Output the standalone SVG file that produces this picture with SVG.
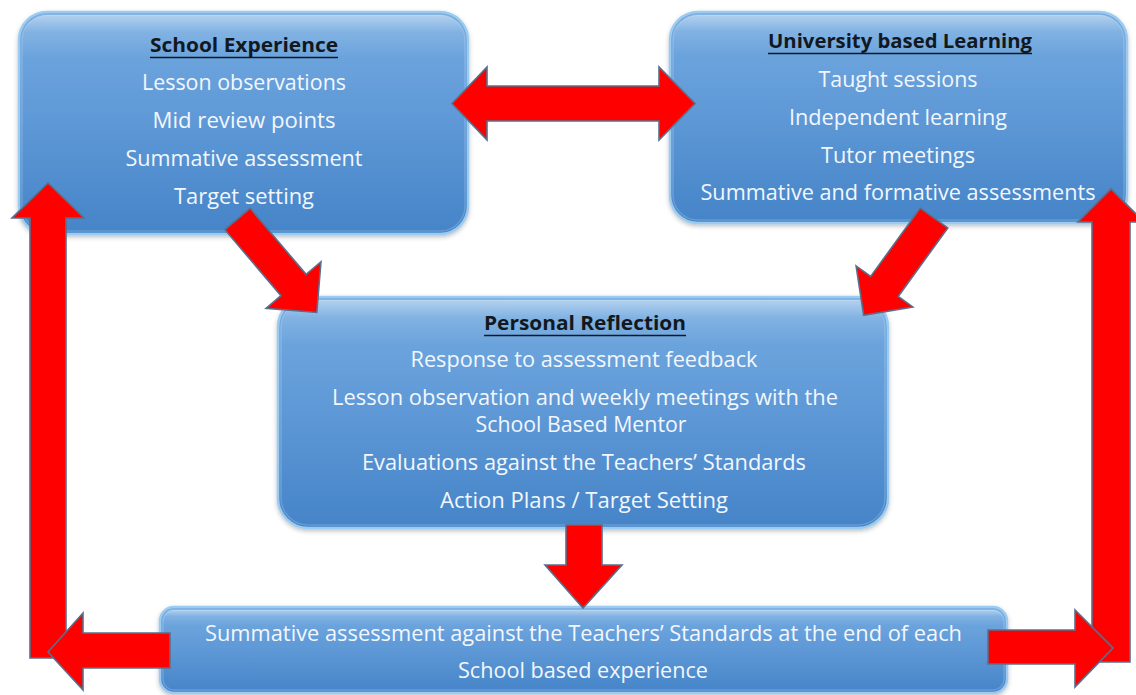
<svg xmlns="http://www.w3.org/2000/svg" width="1136" height="695" viewBox="0 0 1136 695">
<defs>
<linearGradient id="boxGrad" x1="0" y1="0" x2="0" y2="1">
<stop offset="0" stop-color="#74abe1"/>
<stop offset="0.5" stop-color="#5e98d6"/>
<stop offset="1" stop-color="#4584c8"/>
</linearGradient>
<linearGradient id="hlGrad" x1="0" y1="0" x2="0" y2="1">
<stop offset="0" stop-color="#ffffff" stop-opacity="0.45"/>
<stop offset="0.08" stop-color="#ffffff" stop-opacity="0.12"/>
<stop offset="0.2" stop-color="#ffffff" stop-opacity="0"/>
</linearGradient>
<filter id="shadow" x="-5%" y="-5%" width="110%" height="115%">
<feDropShadow dx="0" dy="2" stdDeviation="2" flood-color="#3a4a60" flood-opacity="0.35"/>
</filter>
<style>
.box { fill: url(#boxGrad); stroke: #9ccbf0; stroke-width: 2.5; filter: url(#shadow); }
.hl { fill: url(#hlGrad); stroke: #ffffff; stroke-opacity: 0.18; stroke-width: 1.5; }
.title { font-family: "Open Sans", "Liberation Sans", sans-serif; font-weight: bold; font-size: 20px; fill: #121820; text-anchor: middle; }
.body { font-family: "Open Sans", "Liberation Sans", sans-serif; font-size: 21px; fill: #f2f7fd; text-anchor: middle; }
.ul { stroke: #121820; stroke-width: 1.6; }
.arrow { fill: #ff0000; stroke: #5b6f8c; stroke-width: 1.6; stroke-linejoin: miter; }
</style>
</defs>
<rect width="1136" height="695" fill="#ffffff"/>

<g id="school-experience">
<rect class="box" x="19" y="12" width="449" height="222" rx="28"/>
<rect class="hl" x="22" y="15" width="443" height="216" rx="25"/>
<text class="title" x="244" y="52" textLength="188" lengthAdjust="spacingAndGlyphs">School Experience</text>
<line class="ul" x1="150" y1="57.5" x2="338" y2="57.5"/>
<text class="body" x="244" y="90" textLength="204" lengthAdjust="spacingAndGlyphs">Lesson observations</text>
<text class="body" x="244" y="128" textLength="183" lengthAdjust="spacingAndGlyphs">Mid review points</text>
<text class="body" x="244" y="166" textLength="237" lengthAdjust="spacingAndGlyphs">Summative assessment</text>
<text class="body" x="244" y="204" textLength="140" lengthAdjust="spacingAndGlyphs">Target setting</text>
</g>

<g id="university-learning">
<rect class="box" x="670" y="12" width="457" height="211" rx="28"/>
<rect class="hl" x="673" y="15" width="451" height="205" rx="25"/>
<text class="title" x="900" y="48" textLength="264" lengthAdjust="spacingAndGlyphs">University based Learning</text>
<line class="ul" x1="768" y1="53.5" x2="1032" y2="53.5"/>
<text class="body" x="898" y="87" textLength="159" lengthAdjust="spacingAndGlyphs">Taught sessions</text>
<text class="body" x="898" y="125" textLength="218" lengthAdjust="spacingAndGlyphs">Independent learning</text>
<text class="body" x="898" y="163" textLength="154" lengthAdjust="spacingAndGlyphs">Tutor meetings</text>
<text class="body" x="898" y="200" textLength="395" lengthAdjust="spacingAndGlyphs">Summative and formative assessments</text>
</g>

<g id="personal-reflection">
<rect class="box" x="278" y="297" width="610" height="231" rx="30"/>
<rect class="hl" x="281" y="300" width="604" height="225" rx="27"/>
<text class="title" x="585" y="330" textLength="202" lengthAdjust="spacingAndGlyphs">Personal Reflection</text>
<line class="ul" x1="484" y1="335.5" x2="686" y2="335.5"/>
<text class="body" x="584" y="367" textLength="347" lengthAdjust="spacingAndGlyphs">Response to assessment feedback</text>
<text class="body" x="585" y="405" textLength="506" lengthAdjust="spacingAndGlyphs">Lesson observation and weekly meetings with the</text>
<text class="body" x="581" y="432" textLength="211" lengthAdjust="spacingAndGlyphs">School Based Mentor</text>
<text class="body" x="584" y="470" textLength="444" lengthAdjust="spacingAndGlyphs">Evaluations against the Teachers’ Standards</text>
<text class="body" x="584" y="508" textLength="288" lengthAdjust="spacingAndGlyphs">Action Plans / Target Setting</text>
</g>

<g id="summative-assessment">
<rect class="box" x="160" y="607" width="847" height="86" rx="14"/>
<rect class="hl" x="163" y="610" width="841" height="80" rx="11"/>
<text class="body" x="583.5" y="641" textLength="757" lengthAdjust="spacingAndGlyphs">Summative assessment against the Teachers’ Standards at the end of each</text>
<text class="body" x="583" y="678" textLength="250" lengthAdjust="spacingAndGlyphs">School based experience</text>
</g>

<g id="connectors">
<polygon class="arrow" points="452,103.5 487,67 487,86 659,86 659,67 695,103.5 659,140 659,121 487,121 487,140"/>
<polygon class="arrow" transform="translate(237.5,219) rotate(49.7)" points="0,-16.5 86.6,-16.5 86.6,-36 122.6,0 86.6,36 86.6,16.5 0,16.5"/>
<polygon class="arrow" transform="translate(934,218) rotate(125.9)" points="0,-17 84.5,-17 84.5,-35 120,0 84.5,35 84.5,17 0,17"/>
<polygon class="arrow" points="566,525 602,525 602,565 622,565 583,608 545,565 566,565"/>
<polygon class="arrow" points="30,658 30,218 12,218 48,183 84,218 66,218 66,658"/>
<polygon class="arrow" points="170,633 83,633 83,613 48,652 83,690 83,668 170,668"/>
<polygon class="arrow" points="1092,662 1092,222 1078,222 1111,189 1144,222 1130,222 1130,662"/>
<polygon class="arrow" points="988,630 1075,630 1075,610 1113,648 1075,687 1075,664 988,664"/>
</g>
</svg>
